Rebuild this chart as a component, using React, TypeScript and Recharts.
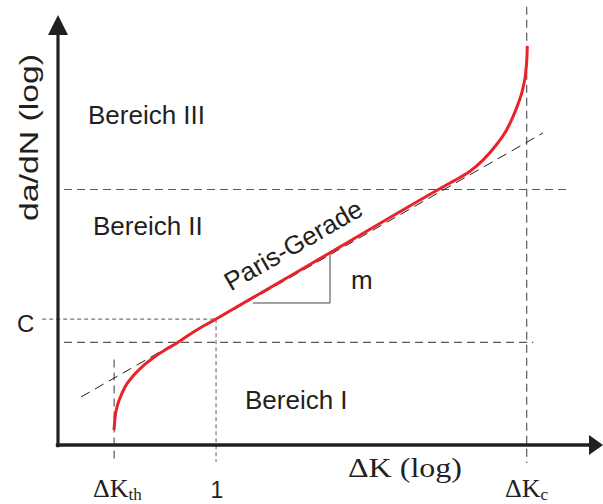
import React from 'react';
import { ComposedChart, Line, XAxis, YAxis, ReferenceLine, ReferenceDot } from 'recharts';

const CHART_W = 603;
const CHART_H = 504;
const X_DOMAIN: [number, number] = [-1.0642, 10];
const Y_DOMAIN: [number, number] = [-1.3785, 10.397];

// crack growth curve da/dN over ΔK (schematic, log-log units)
const crackCurve = [
  { x: 1.028, y: 0.35 },
  { x: 1.046, y: 0.631 },
  { x: 1.083, y: 0.888 },
  { x: 1.138, y: 1.098 },
  { x: 1.229, y: 1.355 },
  { x: 1.376, y: 1.612 },
  { x: 1.56, y: 1.846 },
  { x: 1.743, y: 2.033 },
  { x: 1.963, y: 2.22 },
  { x: 2.183, y: 2.383 },
  { x: 2.514, y: 2.664 },
  { x: 2.899, y: 2.944 },
  { x: 5.046, y: 4.533 },
  { x: 7.193, y: 6.121 },
  { x: 7.376, y: 6.25 },
  { x: 7.56, y: 6.397 },
  { x: 7.798, y: 6.657 },
  { x: 8.055, y: 7.033 },
  { x: 8.22, y: 7.336 },
  { x: 8.349, y: 7.671 },
  { x: 8.459, y: 8.03 },
  { x: 8.532, y: 8.341 },
  { x: 8.587, y: 8.773 },
  { x: 8.606, y: 9.112 },
  { x: 8.611, y: 9.322 },
];

// extended Paris line
const parisLine = [
  { x: 0.422, y: 1.121 },
  { x: 8.899, y: 7.29 },
];

// slope triangle "m"
const slopeTriangle = [
  { x: 3.578, y: 3.318 },
  { x: 4.991, y: 3.318 },
  { x: 4.991, y: 4.49 },
];

const K_TH = 1.03;
const K_ONE = 2.9;
const K_C = 8.6;
const Y_UPPER = 5.97;
const Y_LOWER = 2.4;
const Y_C = 2.94;

const SANS = "'Liberation Sans', Arial, sans-serif";
const SERIF = "'Liberation Serif', 'Times New Roman', serif";
const INK = '#231f20';
const DASH_GRAY = '#5a5a5a';

type P = { cx?: number; cy?: number };

export default function App() {
  return (
    <div style={{ position: 'absolute', left: 0, top: 0, width: CHART_W, height: CHART_H, background: '#fff' }}>
      <ComposedChart width={CHART_W} height={CHART_H} margin={{ top: 0, right: 0, bottom: 0, left: 0 }}>
        <XAxis type="number" dataKey="x" domain={X_DOMAIN} allowDataOverflow hide />
        <YAxis type="number" dataKey="y" domain={Y_DOMAIN} allowDataOverflow hide />

        {/* region boundaries */}
        <ReferenceLine ifOverflow="visible" segment={[{ x: 0.11, y: Y_UPPER }, { x: 9.36, y: Y_UPPER }]} stroke={DASH_GRAY} strokeWidth={1.2} strokeDasharray="8 5" />
        <ReferenceLine ifOverflow="visible" segment={[{ x: 0.11, y: Y_LOWER }, { x: 8.72, y: Y_LOWER }]} stroke={DASH_GRAY} strokeWidth={1.2} strokeDasharray="8 5" />
        <ReferenceLine ifOverflow="visible" segment={[{ x: -0.29, y: Y_C }, { x: K_ONE, y: Y_C }]} stroke="#777" strokeWidth={1.2} strokeDasharray="4 3" />
        <ReferenceLine ifOverflow="visible" segment={[{ x: K_ONE, y: Y_C }, { x: K_ONE, y: -0.4 }]} stroke="#777" strokeWidth={1.2} strokeDasharray="4 3" />
        <ReferenceLine ifOverflow="visible" segment={[{ x: K_TH, y: 2.0 }, { x: K_TH, y: -0.42 }]} stroke={DASH_GRAY} strokeWidth={1.2} strokeDasharray="8 5" />
        <ReferenceLine ifOverflow="visible" segment={[{ x: K_C, y: 10.24 }, { x: K_C, y: -0.42 }]} stroke={DASH_GRAY} strokeWidth={1.2} strokeDasharray="8 5" />

        <Line data={parisLine} dataKey="y" type="linear" stroke={INK} strokeWidth={1} strokeDasharray="10 6" dot={false} activeDot={false} isAnimationActive={false} />
        <Line data={slopeTriangle} dataKey="y" type="linear" stroke="#444" strokeWidth={1} dot={false} activeDot={false} isAnimationActive={false} />
        <Line data={crackCurve} dataKey="y" type="monotone" stroke="#ea2229" strokeWidth={3} dot={false} activeDot={false} isAnimationActive={false} />

        {/* axes */}
        <ReferenceLine ifOverflow="visible" segment={[{ x: 0, y: -0.05 }, { x: 0, y: 9.7 }]} stroke={INK} strokeWidth={3.2} />
        <ReferenceLine ifOverflow="visible" segment={[{ x: -0.04, y: 0 }, { x: 9.76, y: 0 }]} stroke={INK} strokeWidth={3.5} />
        <ReferenceDot x={0} y={10.047} r={0} ifOverflow="visible"
          shape={(p: P) => <polygon points={`${p.cx},${p.cy} ${(p.cx ?? 0) - 10},${(p.cy ?? 0) + 20} ${(p.cx ?? 0) + 10},${(p.cy ?? 0) + 20}`} fill={INK} />} />
        <ReferenceDot x={10.0} y={0} r={0} ifOverflow="visible"
          shape={(p: P) => <polygon points={`${p.cx},${p.cy} ${(p.cx ?? 0) - 14},${(p.cy ?? 0) - 10} ${(p.cx ?? 0) - 14},${(p.cy ?? 0) + 10}`} fill={INK} />} />

        {/* labels */}
        <ReferenceDot x={0.55} y={7.5} r={0} ifOverflow="visible"
          shape={(p: P) => <text x={p.cx} y={p.cy} fontFamily={SANS} fontSize={26} fill={INK}>Bereich III</text>} />
        <ReferenceDot x={0.642} y={4.907} r={0} ifOverflow="visible"
          shape={(p: P) => <text x={p.cx} y={p.cy} fontFamily={SANS} fontSize={26} fill={INK}>Bereich II</text>} />
        <ReferenceDot x={3.431} y={0.841} r={0} ifOverflow="visible"
          shape={(p: P) => <text x={p.cx} y={p.cy} fontFamily={SANS} fontSize={26} fill={INK}>Bereich I</text>} />
        <ReferenceDot x={-0.752} y={2.64} r={0} ifOverflow="visible"
          shape={(p: P) => <text x={p.cx} y={p.cy} fontFamily={SANS} fontSize={24} fill={INK}>C</text>} />
        <ReferenceDot x={5.376} y={3.645} r={0} ifOverflow="visible"
          shape={(p: P) => <text x={p.cx} y={p.cy} fontFamily={SANS} fontSize={26} fill={INK}>m</text>} />
        <ReferenceDot x={4.4} y={4.49} r={0} ifOverflow="visible"
          shape={(p: P) => (
            <text x={p.cx} y={p.cy} fontFamily={SANS} fontSize={26} fill={INK} textAnchor="middle"
              transform={`rotate(-30, ${p.cx}, ${p.cy})`}>Paris-Gerade</text>
          )} />
        <ReferenceDot x={-0.367} y={7.185} r={0} ifOverflow="visible"
          shape={(p: P) => (
            <text x={p.cx} y={p.cy} fontFamily={SANS} fontSize={25} fill={INK} textAnchor="middle"
              textLength={167} lengthAdjust="spacingAndGlyphs"
              transform={`rotate(-90, ${p.cx}, ${p.cy})`}>da/dN (log)</text>
          )} />
        <ReferenceDot x={5.321} y={-0.741} r={0} ifOverflow="visible"
          shape={(p: P) => (
            <text x={p.cx} y={p.cy} fontFamily={SERIF} fontSize={27} fill={INK}
              textLength={114} lengthAdjust="spacingAndGlyphs">ΔK (log)</text>
          )} />
        <ReferenceDot x={0.642} y={-1.215} r={0} ifOverflow="visible"
          shape={(p: P) => (
            <text x={p.cx} y={p.cy} fontFamily={SERIF} fontSize={26} fill={INK}>
              ΔK<tspan fontSize={17} dy={3}>th</tspan>
            </text>
          )} />
        <ReferenceDot x={2.917} y={-1.24} r={0} ifOverflow="visible"
          shape={(p: P) => <text x={p.cx} y={p.cy} fontFamily={SANS} fontSize={23} fill={INK} textAnchor="middle">1</text>} />
        <ReferenceDot x={8.202} y={-1.215} r={0} ifOverflow="visible"
          shape={(p: P) => (
            <text x={p.cx} y={p.cy} fontFamily={SERIF} fontSize={26} fill={INK}>
              ΔK<tspan fontSize={17} dy={3}>c</tspan>
            </text>
          )} />
      </ComposedChart>
    </div>
  );
}
